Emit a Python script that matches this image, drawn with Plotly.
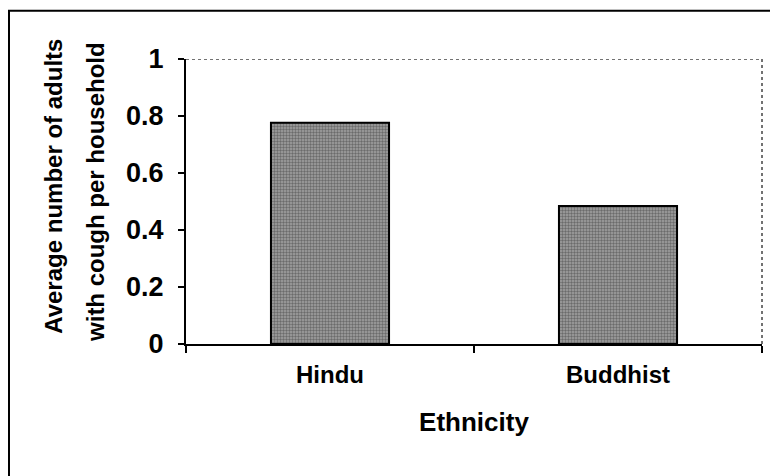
import plotly.graph_objects as go

categories = ["Hindu", "Buddhist"]
values = [0.776, 0.484]
y_ticks = [0, 0.2, 0.4, 0.6, 0.8, 1]
y_tick_labels = ["0", "0.2", "0.4", "0.6", "0.8", "1"]

FONT = "Liberation Sans, Arial, sans-serif"

fig = go.Figure(go.Bar(
    x=categories, y=values, width=0.41,
    marker=dict(
        color="#888888",
        line=dict(color="black", width=2),
        pattern=dict(shape=".", fgcolor="#333333", bgcolor="#a2a2a2", size=3, solidity=0.5),
    ),
))

fig.update_layout(
    width=770, height=468,
    margin=dict(l=178, r=16, t=51, b=132),
    plot_bgcolor="white", paper_bgcolor="white",
    showlegend=False,
    font=dict(family=FONT, color="black"),
    xaxis=dict(
        showline=True, linecolor="black", linewidth=2,
        ticks="outside", tickson="boundaries", ticklen=7, tickcolor="black", tickwidth=1.5,
        ticklabelstandoff=8,
        tickfont=dict(size=24, family=FONT, weight="bold"),
        title=dict(text="<b>Ethnicity</b>", font=dict(size=26, family=FONT), standoff=26),
        showgrid=False,
    ),
    yaxis=dict(
        range=[0, 1], tickvals=y_ticks, ticktext=y_tick_labels,
        showline=True, linecolor="black", linewidth=2,
        ticks="outside", ticklen=6, tickcolor="black", tickwidth=1.5,
        ticklabelstandoff=9,
        tickfont=dict(size=27, family=FONT, weight="bold"),
        showgrid=False, zeroline=False,
    ),
    shapes=[
        dict(type="line", xref="paper", yref="y", x0=0, x1=1, y0=1, y1=1,
             line=dict(color="#444444", width=1.5, dash="dot")),
        dict(type="line", xref="paper", yref="y", x0=1, x1=1, y0=0, y1=1,
             line=dict(color="#444444", width=1.5, dash="dot")),
        dict(type="rect", xref="paper", yref="paper", x0=-0.3073, x1=1.06, y0=-0.6, y1=1.1697,
             line=dict(color="black", width=2)),
    ],
    annotations=[
        dict(text="<b>Average number of adults</b>",
             xref="paper", yref="paper", x=-0.229, y=0.552, textangle=-90,
             xanchor="center", yanchor="middle",
             showarrow=False, font=dict(size=24, family=FONT)),
        dict(text="<b>with cough per household</b>",
             xref="paper", yref="paper", x=-0.156, y=0.534, textangle=-90,
             xanchor="center", yanchor="middle",
             showarrow=False, font=dict(size=24, family=FONT)),
    ],
)

fig.write_html("out.html")
